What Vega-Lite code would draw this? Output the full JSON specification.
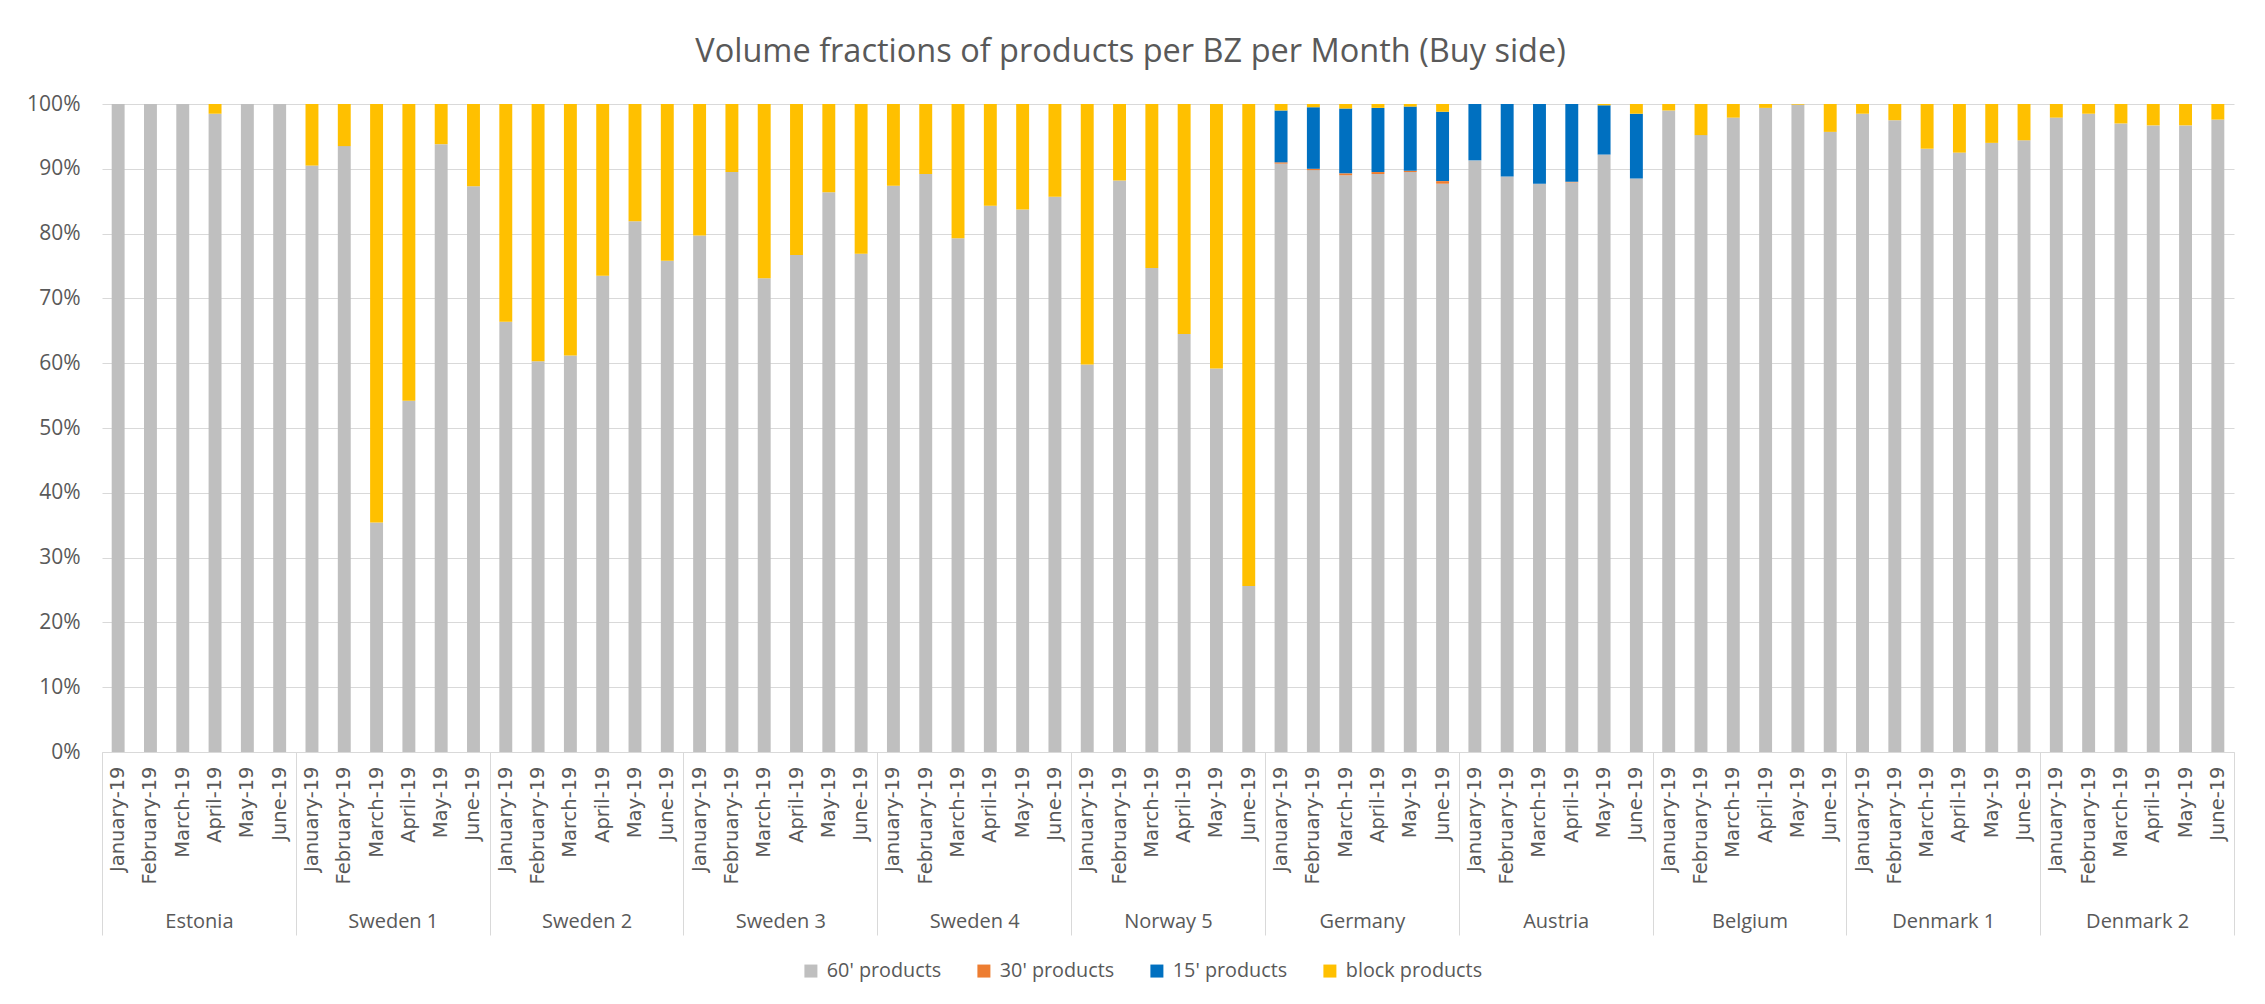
{
  "$schema": "https://vega.github.io/schema/vega-lite/v6.json",
  "autosize": "none",
  "width": 2132,
  "height": 648,
  "padding": {"left": 102, "top": 104, "right": 31, "bottom": 252},
  "background": "white",
  "title": {"text": "Volume fractions of products per BZ per Month (Buy side)", "font": "Open Sans", "fontSize": 32.5, "fontWeight": "normal", "color": "#595959", "anchor": "middle", "frame": "bounds", "offset": 25},
  "data": {"values": [
    {"zone": "Estonia", "id": "Estonia|January-19", "p60": 100, "p30": 0, "p15": 0, "block": 0},
    {"zone": "Estonia", "id": "Estonia|February-19", "p60": 100, "p30": 0, "p15": 0, "block": 0},
    {"zone": "Estonia", "id": "Estonia|March-19", "p60": 100, "p30": 0, "p15": 0, "block": 0},
    {"zone": "Estonia", "id": "Estonia|April-19", "p60": 98.5, "p30": 0, "p15": 0, "block": 1.5},
    {"zone": "Estonia", "id": "Estonia|May-19", "p60": 100, "p30": 0, "p15": 0, "block": 0},
    {"zone": "Estonia", "id": "Estonia|June-19", "p60": 100, "p30": 0, "p15": 0, "block": 0},
    {"zone": "Sweden 1", "id": "Sweden 1|January-19", "p60": 90.5, "p30": 0, "p15": 0, "block": 9.5},
    {"zone": "Sweden 1", "id": "Sweden 1|February-19", "p60": 93.5, "p30": 0, "p15": 0, "block": 6.5},
    {"zone": "Sweden 1", "id": "Sweden 1|March-19", "p60": 35.4, "p30": 0, "p15": 0, "block": 64.6},
    {"zone": "Sweden 1", "id": "Sweden 1|April-19", "p60": 54.2, "p30": 0, "p15": 0, "block": 45.8},
    {"zone": "Sweden 1", "id": "Sweden 1|May-19", "p60": 93.8, "p30": 0, "p15": 0, "block": 6.2},
    {"zone": "Sweden 1", "id": "Sweden 1|June-19", "p60": 87.3, "p30": 0, "p15": 0, "block": 12.7},
    {"zone": "Sweden 2", "id": "Sweden 2|January-19", "p60": 66.4, "p30": 0, "p15": 0, "block": 33.6},
    {"zone": "Sweden 2", "id": "Sweden 2|February-19", "p60": 60.3, "p30": 0, "p15": 0, "block": 39.7},
    {"zone": "Sweden 2", "id": "Sweden 2|March-19", "p60": 61.2, "p30": 0, "p15": 0, "block": 38.8},
    {"zone": "Sweden 2", "id": "Sweden 2|April-19", "p60": 73.5, "p30": 0, "p15": 0, "block": 26.5},
    {"zone": "Sweden 2", "id": "Sweden 2|May-19", "p60": 81.9, "p30": 0, "p15": 0, "block": 18.1},
    {"zone": "Sweden 2", "id": "Sweden 2|June-19", "p60": 75.8, "p30": 0, "p15": 0, "block": 24.2},
    {"zone": "Sweden 3", "id": "Sweden 3|January-19", "p60": 79.7, "p30": 0, "p15": 0, "block": 20.3},
    {"zone": "Sweden 3", "id": "Sweden 3|February-19", "p60": 89.5, "p30": 0, "p15": 0, "block": 10.5},
    {"zone": "Sweden 3", "id": "Sweden 3|March-19", "p60": 73.1, "p30": 0, "p15": 0, "block": 26.9},
    {"zone": "Sweden 3", "id": "Sweden 3|April-19", "p60": 76.7, "p30": 0, "p15": 0, "block": 23.3},
    {"zone": "Sweden 3", "id": "Sweden 3|May-19", "p60": 86.4, "p30": 0, "p15": 0, "block": 13.6},
    {"zone": "Sweden 3", "id": "Sweden 3|June-19", "p60": 76.9, "p30": 0, "p15": 0, "block": 23.1},
    {"zone": "Sweden 4", "id": "Sweden 4|January-19", "p60": 87.4, "p30": 0, "p15": 0, "block": 12.6},
    {"zone": "Sweden 4", "id": "Sweden 4|February-19", "p60": 89.2, "p30": 0, "p15": 0, "block": 10.8},
    {"zone": "Sweden 4", "id": "Sweden 4|March-19", "p60": 79.3, "p30": 0, "p15": 0, "block": 20.7},
    {"zone": "Sweden 4", "id": "Sweden 4|April-19", "p60": 84.3, "p30": 0, "p15": 0, "block": 15.7},
    {"zone": "Sweden 4", "id": "Sweden 4|May-19", "p60": 83.7, "p30": 0, "p15": 0, "block": 16.3},
    {"zone": "Sweden 4", "id": "Sweden 4|June-19", "p60": 85.7, "p30": 0, "p15": 0, "block": 14.3},
    {"zone": "Norway 5", "id": "Norway 5|January-19", "p60": 59.8, "p30": 0, "p15": 0, "block": 40.2},
    {"zone": "Norway 5", "id": "Norway 5|February-19", "p60": 88.2, "p30": 0, "p15": 0, "block": 11.8},
    {"zone": "Norway 5", "id": "Norway 5|March-19", "p60": 74.7, "p30": 0, "p15": 0, "block": 25.3},
    {"zone": "Norway 5", "id": "Norway 5|April-19", "p60": 64.5, "p30": 0, "p15": 0, "block": 35.5},
    {"zone": "Norway 5", "id": "Norway 5|May-19", "p60": 59.2, "p30": 0, "p15": 0, "block": 40.8},
    {"zone": "Norway 5", "id": "Norway 5|June-19", "p60": 25.6, "p30": 0, "p15": 0, "block": 74.4},
    {"zone": "Germany", "id": "Germany|January-19", "p60": 90.8, "p30": 0.2, "p15": 8.0, "block": 1.0},
    {"zone": "Germany", "id": "Germany|February-19", "p60": 89.8, "p30": 0.2, "p15": 9.5, "block": 0.5},
    {"zone": "Germany", "id": "Germany|March-19", "p60": 89.0, "p30": 0.3, "p15": 10.0, "block": 0.7},
    {"zone": "Germany", "id": "Germany|April-19", "p60": 89.2, "p30": 0.3, "p15": 9.9, "block": 0.6},
    {"zone": "Germany", "id": "Germany|May-19", "p60": 89.5, "p30": 0.2, "p15": 9.9, "block": 0.4},
    {"zone": "Germany", "id": "Germany|June-19", "p60": 87.7, "p30": 0.4, "p15": 10.7, "block": 1.2},
    {"zone": "Austria", "id": "Austria|January-19", "p60": 91.3, "p30": 0, "p15": 8.7, "block": 0},
    {"zone": "Austria", "id": "Austria|February-19", "p60": 88.8, "p30": 0, "p15": 11.2, "block": 0},
    {"zone": "Austria", "id": "Austria|March-19", "p60": 87.7, "p30": 0, "p15": 12.3, "block": 0},
    {"zone": "Austria", "id": "Austria|April-19", "p60": 87.9, "p30": 0.1, "p15": 12.0, "block": 0},
    {"zone": "Austria", "id": "Austria|May-19", "p60": 92.2, "p30": 0, "p15": 7.6, "block": 0.2},
    {"zone": "Austria", "id": "Austria|June-19", "p60": 88.5, "p30": 0, "p15": 10.0, "block": 1.5},
    {"zone": "Belgium", "id": "Belgium|January-19", "p60": 99.0, "p30": 0, "p15": 0, "block": 1.0},
    {"zone": "Belgium", "id": "Belgium|February-19", "p60": 95.2, "p30": 0, "p15": 0, "block": 4.8},
    {"zone": "Belgium", "id": "Belgium|March-19", "p60": 97.9, "p30": 0, "p15": 0, "block": 2.1},
    {"zone": "Belgium", "id": "Belgium|April-19", "p60": 99.4, "p30": 0, "p15": 0, "block": 0.6},
    {"zone": "Belgium", "id": "Belgium|May-19", "p60": 99.9, "p30": 0, "p15": 0, "block": 0.1},
    {"zone": "Belgium", "id": "Belgium|June-19", "p60": 95.7, "p30": 0, "p15": 0, "block": 4.3},
    {"zone": "Denmark 1", "id": "Denmark 1|January-19", "p60": 98.5, "p30": 0, "p15": 0, "block": 1.5},
    {"zone": "Denmark 1", "id": "Denmark 1|February-19", "p60": 97.5, "p30": 0, "p15": 0, "block": 2.5},
    {"zone": "Denmark 1", "id": "Denmark 1|March-19", "p60": 93.1, "p30": 0, "p15": 0, "block": 6.9},
    {"zone": "Denmark 1", "id": "Denmark 1|April-19", "p60": 92.5, "p30": 0, "p15": 0, "block": 7.5},
    {"zone": "Denmark 1", "id": "Denmark 1|May-19", "p60": 94.0, "p30": 0, "p15": 0, "block": 6.0},
    {"zone": "Denmark 1", "id": "Denmark 1|June-19", "p60": 94.4, "p30": 0, "p15": 0, "block": 5.6},
    {"zone": "Denmark 2", "id": "Denmark 2|January-19", "p60": 97.9, "p30": 0, "p15": 0, "block": 2.1},
    {"zone": "Denmark 2", "id": "Denmark 2|February-19", "p60": 98.5, "p30": 0, "p15": 0, "block": 1.5},
    {"zone": "Denmark 2", "id": "Denmark 2|March-19", "p60": 97.0, "p30": 0, "p15": 0, "block": 3.0},
    {"zone": "Denmark 2", "id": "Denmark 2|April-19", "p60": 96.7, "p30": 0, "p15": 0, "block": 3.3},
    {"zone": "Denmark 2", "id": "Denmark 2|May-19", "p60": 96.7, "p30": 0, "p15": 0, "block": 3.3},
    {"zone": "Denmark 2", "id": "Denmark 2|June-19", "p60": 97.6, "p30": 0, "p15": 0, "block": 2.4}
  ]},
  "transform": [{"fold": ["p60", "p30", "p15", "block"], "as": ["series", "value"]}],
  "layer": [
    {
      "mark": {"type": "bar"},
      "encoding": {
        "x": {"field": "id", "type": "nominal", "sort": null,
              "scale": {"paddingInner": 0.6, "paddingOuter": 0.3},
              "axis": {"title": null, "orient": "bottom", "domain": false, "ticks": false, "grid": false,
                       "labelAngle": -90, "labelFont": "DejaVu Sans", "labelFontSize": 19.5, "labelColor": "#595959",
                       "labelPadding": 14, "labelOverlap": false, "labelExpr": "split(datum.label, '|')[1]"}},
        "y": {"field": "value", "type": "quantitative", "stack": "normalize",
              "scale": {"domain": [0, 1]},
              "axis": {"title": null, "values": [0, 0.1, 0.2, 0.3, 0.4, 0.5, 0.6, 0.7, 0.8, 0.9, 1], "format": ".0%",
                       "domain": false, "ticks": false, "grid": true, "gridColor": "#d9d9d9", "gridWidth": 1,
                       "labelFont": "Open Sans", "labelFontSize": 21, "labelColor": "#595959", "labelPadding": 22}},
        "color": {"field": "series", "type": "nominal",
                  "scale": {"domain": ["p60", "p30", "p15", "block"], "range": ["#BFBFBF", "#ED7D31", "#0070C0", "#FFC000"]},
                  "legend": {"orient": "none", "legendX": 699, "legendY": 857, "direction": "horizontal", "title": null,
                             "symbolType": "square", "symbolSize": 169, "symbolStrokeWidth": 0,
                             "labelFont": "Open Sans", "labelFontSize": 19.8, "labelColor": "#595959", "labelOffset": 6,
                             "columnPadding": 32, "labelLimit": 300,
                             "labelExpr": "datum.value == 'p60' ? \"60' products\" : datum.value == 'p30' ? \"30' products\" : datum.value == 'p15' ? \"15' products\" : 'block products'"}},
        "order": {"field": "series", "sort": "descending"}
      }
    },
    {
      "mark": {"type": "bar", "opacity": 0},
      "encoding": {
        "x": {"field": "zone", "type": "nominal", "sort": null,
              "scale": {"paddingInner": 0, "paddingOuter": 0},
              "axis": {"title": null, "orient": "bottom", "tickBand": "extent", "tickSize": 183, "tickColor": "#d9d9d9",
                       "domainColor": "#d9d9d9", "grid": false, "labelAngle": 0, "labelFont": "Open Sans", "labelFontSize": 20,
                       "labelColor": "#595959", "labelBaseline": "alphabetic", "labelPadding": -8, "labelOverlap": false}}
      }
    }
  ],
  "resolve": {"scale": {"x": "independent"}, "axis": {"x": "independent"}},
  "config": {"view": {"stroke": null}}
}
